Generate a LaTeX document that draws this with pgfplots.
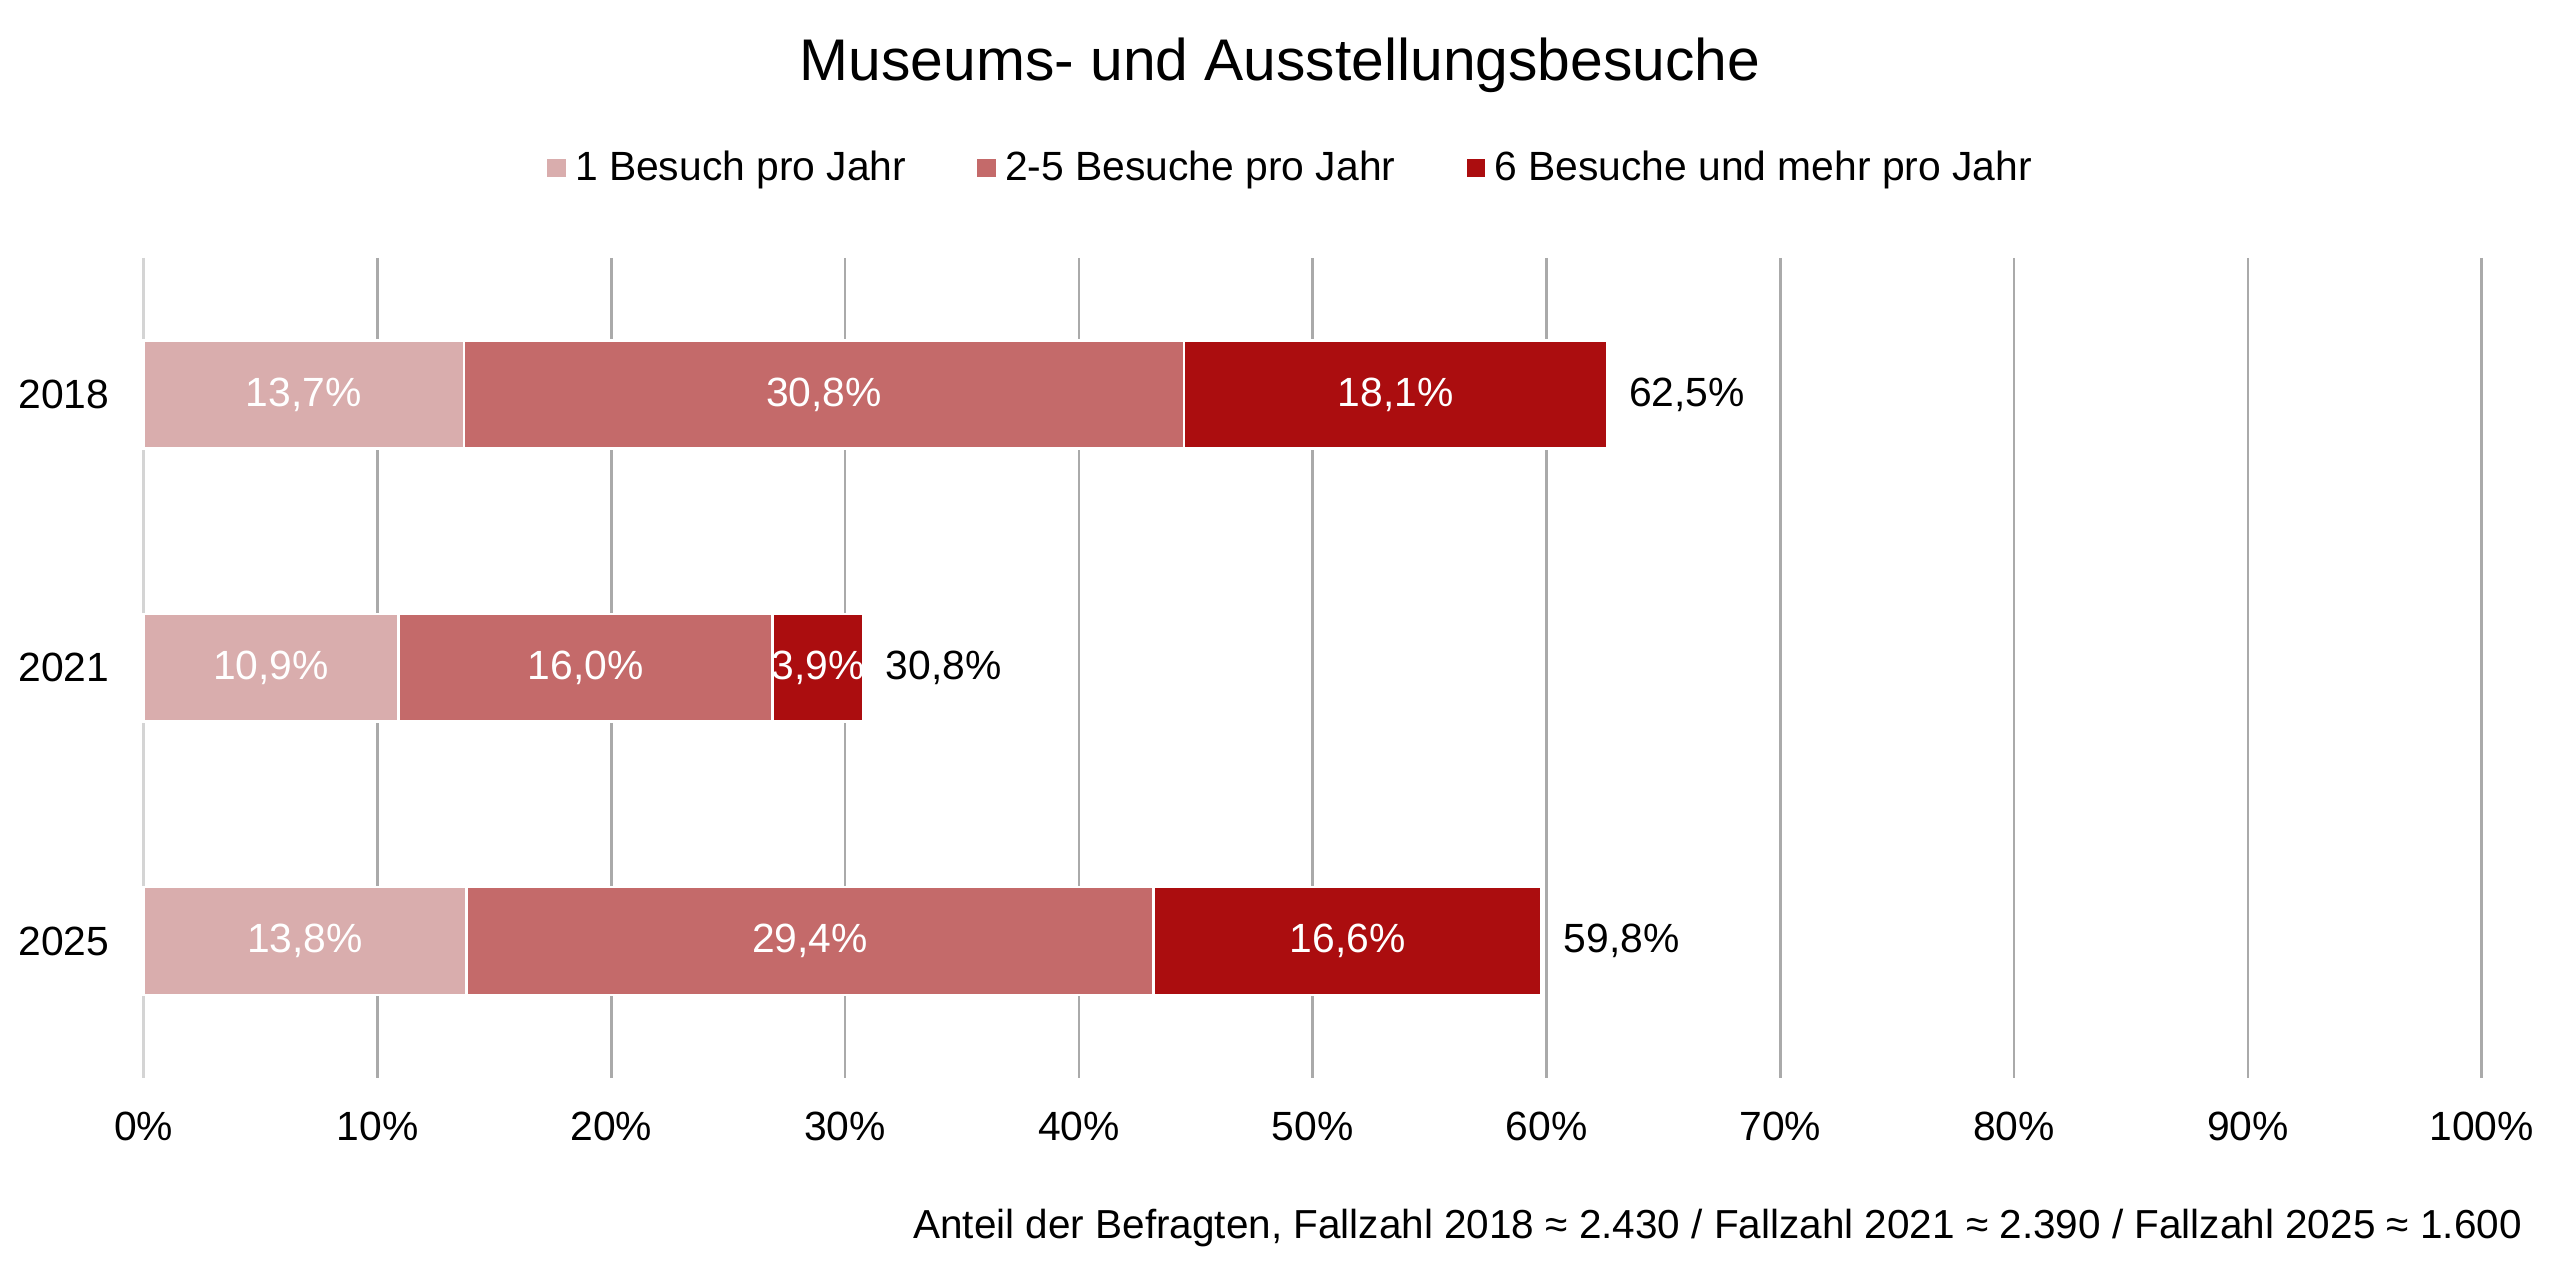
\documentclass[border=0pt]{standalone}
\usepackage{fontspec}
\setmainfont{Liberation Sans}
\usepackage{pgfplots}
\pgfplotsset{compat=1.18}
\definecolor{cA}{RGB}{217,173,173}
\definecolor{cB}{RGB}{196,106,106}
\definecolor{cC}{RGB}{171,13,15}
\definecolor{gridc}{RGB}{170,170,170}
\definecolor{gridz}{RGB}{212,212,212}
\newcommand{\fs}{\fontsize{12.5bp}{15bp}\selectfont}
\tikzset{seglab/.style={font=\fs, text=white, inner sep=0pt},
         totlab/.style={font=\fs, text=black, anchor=west, inner sep=0pt, xshift=6.5bp}}
\begin{document}
\begin{tikzpicture}
\path[use as bounding box] (0,0) rectangle (784bp,391bp);
\node[font=\fontsize{18bp}{22bp}\selectfont] at (392bp,371bp) {Museums- und Ausstellungsbesuche};
\node[font=\fontsize{12.4bp}{15bp}\selectfont, anchor=east, inner sep=0pt] at (772.5bp,15bp) {Anteil der Befragten, Fallzahl 2018 ≈ 2.430 / Fallzahl 2021 ≈ 2.390 / Fallzahl 2025 ≈ 1.600};
\begin{axis}[
  at={(44bp,61bp)}, anchor=south west,
  scale only axis, width=716bp, height=251bp,
  xbar stacked, bar width=33bp,
  xmin=0, xmax=100, ymin=-0.5, ymax=2.5, y dir=reverse,
  ytick={0,1,2}, yticklabels={2018,2021,2025},
  xtick={10,20,...,100},
  extra x ticks={0},
  extra x tick style={major grid style={gridz, line width=0.8bp}},
  xticklabel={\pgfmathprintnumber{\tick}\%},
  /pgf/number format/assume math mode=true,
  xmajorgrids, major grid style={gridc, line width=0.8bp},
  axis line style={draw=none}, major tick length=0pt,
  tick label style={font=\fs},
  xticklabel style={yshift=-7bp},
  yticklabel style={xshift=-7bp},
  legend columns=-1,
  legend style={at={(0.491,1.1096)}, anchor=center, draw=none, fill=none, font=\fs,
    /tikz/every even column/.append style={column sep=19bp}},
  legend image code/.code={\fill[#1] (0bp,-3.25bp) rectangle (6.5bp,3.25bp);},
  clip=false,
]
\addplot[fill=cA, draw=white, line width=0.8bp] coordinates {(13.7,0) (10.9,1) (13.8,2)};
\addplot[fill=cB, draw=white, line width=0.8bp] coordinates {(30.8,0) (16.0,1) (29.4,2)};
\addplot[fill=cC, draw=white, line width=0.8bp] coordinates {(18.1,0) (3.9,1) (16.6,2)};
\legend{1 Besuch pro Jahr, 2-5 Besuche pro Jahr, 6 Besuche und mehr pro Jahr}
\coordinate (a1) at (axis cs:6.85,0);
\coordinate (a2) at (axis cs:29.1,0);
\coordinate (a3) at (axis cs:53.55,0);
\coordinate (b1) at (axis cs:5.45,1);
\coordinate (b2) at (axis cs:18.9,1);
\coordinate (b3) at (axis cs:28.85,1);
\coordinate (c1) at (axis cs:6.9,2);
\coordinate (c2) at (axis cs:28.5,2);
\coordinate (c3) at (axis cs:51.5,2);
\node[totlab] at (axis cs:62.6,0) {62,5\%};
\node[totlab] at (axis cs:30.8,1) {30,8\%};
\node[totlab] at (axis cs:59.8,2) {59,8\%};
\end{axis}
\node[seglab] at (a1) {13,7\%};
\node[seglab] at (a2) {30,8\%};
\node[seglab] at (a3) {18,1\%};
\node[seglab] at (b1) {10,9\%};
\node[seglab] at (b2) {16,0\%};
\node[seglab] at (b3) {3,9\%};
\node[seglab] at (c1) {13,8\%};
\node[seglab] at (c2) {29,4\%};
\node[seglab] at (c3) {16,6\%};
\end{tikzpicture}
\end{document}
